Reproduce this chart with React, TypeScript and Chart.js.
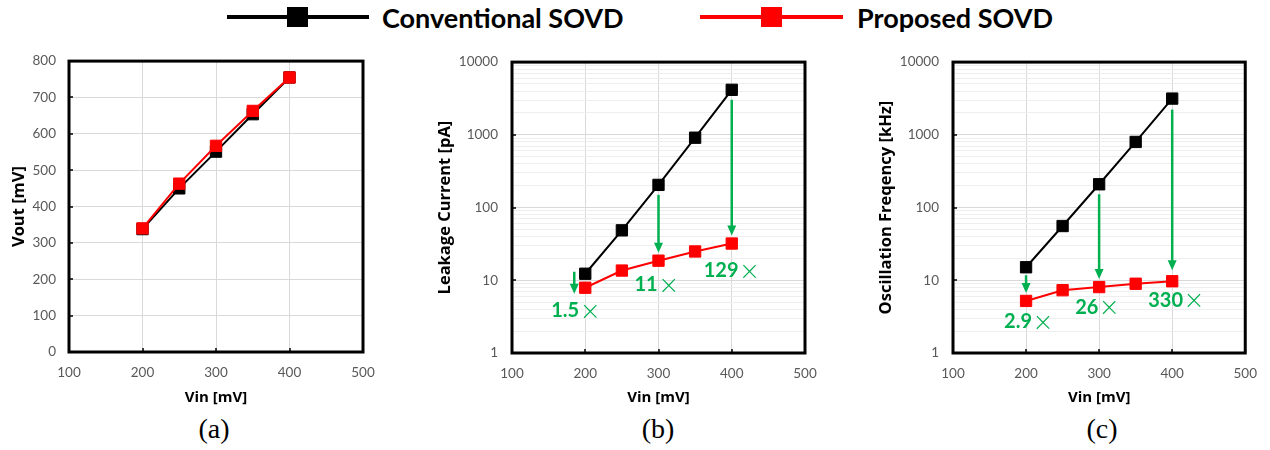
import React, { useEffect, useRef } from 'react';
import { Chart, registerables } from 'chart.js';

Chart.register(...registerables);

// ---------------- data ----------------
const vinValues = [200, 250, 300, 350, 400];
const xTickValues = [100, 200, 300, 400, 500];
const voutTickValues = [0, 100, 200, 300, 400, 500, 600, 700, 800];
const logTickLabels = [1, 10, 100, 1000, 10000];

const voutConventional = [338, 450, 551, 654, 755];
const voutProposed = [340, 463, 567, 663, 755];

const leakageConventional = [12.3, 48.6, 205, 913, 4160];
const leakageProposed = [7.9, 13.6, 18.6, 24.9, 32];

const freqConventional = [15.1, 55.7, 209, 798, 3150];
const freqProposed = [5.2, 7.3, 8.06, 8.96, 9.7];

const leakageRatioVin = [200, 300, 400];
const leakageRatioLabels = ['1.5', '11', '129'];
const freqRatioVin = [200, 300, 400];
const freqRatioLabels = ['2.9', '26', '330'];

const seriesNames = ['Conventional SOVD', 'Proposed SOVD'];
const panelLabels = ['(a)', '(b)', '(c)'];
const xTitle = 'Vin [mV]';
const yTitles = ['Vout [mV]', 'Leakage Current [pA]', 'Oscillation Freqency [kHz]'];

// ---------------- styles ----------------
const BLACK = '#000000';
const RED = '#ff0000';
const GREEN = '#00b050';
const FONT = 'Lato';
const TITLE_FONT = '"Open Sans"';
const TICK_COLOR = '#595959';

// pixel offsets for the ratio annotations (arrow dx, arrow start/end pads, text offsets)
const leakageAnnoStyle = [
  { dx: -11, start: -2, end: 6, tx: -34, ty: 23 },
  { dx: 0, start: 10, end: -8, tx: -24, ty: 24 },
  { dx: 0, start: 10, end: -8, tx: -28, ty: 27 },
];
const freqAnnoStyle = [
  { dx: 0, start: 8, end: -8, tx: -22, ty: 21 },
  { dx: 0, start: 10, end: -8, tx: -24, ty: 20 },
  { dx: 0, start: 11, end: -11, tx: -24, ty: 19 },
];

const isDecade = (v: number) => {
  const l = Math.log10(v);
  return Math.abs(l - Math.round(l)) < 1e-9;
};

function logGridValues(): number[] {
  const out: number[] = [];
  for (let d = 0; d < logTickLabels.length - 1; d++) {
    for (let m = 1; m < 10; m++) out.push(logTickLabels[d] * m);
  }
  out.push(logTickLabels[logTickLabels.length - 1]);
  return out;
}

const framePlugin = {
  id: 'frame',
  beforeDatasetsDraw(chart: any) {
    const { ctx, chartArea: a, scales } = chart;
    ctx.save();
    ctx.strokeStyle = '#000';
    ctx.lineWidth = 1.5;
    const xs = scales.x;
    xs.ticks.forEach((t: any) => {
      if (t.value > xs.min && t.value < xs.max) {
        const px = Math.round(xs.getPixelForValue(t.value));
        ctx.beginPath();
        ctx.moveTo(px, a.bottom);
        ctx.lineTo(px, a.bottom - 4);
        ctx.stroke();
      }
    });
    const ys = scales.y;
    ys.ticks.forEach((t: any) => {
      const major = ys.type === 'logarithmic' ? isDecade(t.value) : true;
      if (major && t.value > ys.min && t.value < ys.max) {
        const py = Math.round(ys.getPixelForValue(t.value));
        ctx.beginPath();
        ctx.moveTo(a.left, py);
        ctx.lineTo(a.left + 4, py);
        ctx.stroke();
      }
    });
    ctx.lineWidth = 3;
    ctx.strokeRect(a.left, a.top, a.right - a.left, a.bottom - a.top);
    ctx.restore();
  },
};

function makeAnnoPlugin(vins: number[], labels: string[], conv: number[], prop: number[], style: any[]) {
  return {
    id: 'ratioAnno',
    afterDatasetsDraw(chart: any) {
      const { ctx, scales } = chart;
      const xs = scales.x;
      const ys = scales.y;
      ctx.save();
      vins.forEach((v, i) => {
        const idx = vinValues.indexOf(v);
        const s = style[i];
        const x = xs.getPixelForValue(v) + s.dx;
        const y1 = ys.getPixelForValue(conv[idx]) + s.start;
        const y2 = ys.getPixelForValue(prop[idx]) + s.end;
        const head = 10;
        ctx.strokeStyle = GREEN;
        ctx.fillStyle = GREEN;
        ctx.lineWidth = 2.5;
        ctx.beginPath();
        ctx.moveTo(x, y1);
        ctx.lineTo(x, y2 - head + 1);
        ctx.stroke();
        ctx.beginPath();
        ctx.moveTo(x - 4.5, y2 - head);
        ctx.lineTo(x + 4.5, y2 - head);
        ctx.lineTo(x, y2);
        ctx.closePath();
        ctx.fill();
        // label
        const tx = xs.getPixelForValue(v) + s.tx;
        const ty = ys.getPixelForValue(prop[idx]) + s.ty;
        ctx.textBaseline = 'middle';
        ctx.textAlign = 'left';
        ctx.font = `bold 20px ${FONT}`;
        ctx.fillText(labels[i], tx, ty);
        const w = ctx.measureText(labels[i]).width;
        ctx.font = `300 31px ${FONT}`;
        ctx.fillText('\u00d7', tx + w + 2, ty + 1);
      });
      ctx.restore();
    },
  };
}

function makeConfig(p: any) {
  const ds = (label: string, color: string, values: number[], order: number) => ({
    label,
    data: vinValues.map((x, i) => ({ x, y: values[i] })),
    borderColor: color,
    backgroundColor: color,
    pointBackgroundColor: color,
    pointBorderColor: color,
    pointBorderWidth: 1,
    pointStyle: 'rect',
    pointRadius: 8,
    borderWidth: 2,
    order,
  });
  const tickFont = { family: FONT, size: 13.5 };
  const xTitleFont = { family: TITLE_FONT, size: 15, weight: 'bold' };
  const yTitleFont = { family: TITLE_FONT, size: 16.5, weight: 'bold' };
  const yScale: any = p.log
    ? {
        type: 'logarithmic',
        min: 1,
        max: 10000,
        afterBuildTicks: (s: any) => {
          s.ticks = logGridValues().map((v) => ({ value: v, major: isDecade(v) }));
        },
        ticks: {
          autoSkip: false,
          padding: 14,
          color: TICK_COLOR,
          font: tickFont,
          callback: (v: any) => (logTickLabels.includes(Number(v)) ? String(v) : ''),
        },
        grid: {
          drawTicks: false,
          color: (c: any) => (c.tick && isDecade(c.tick.value) ? '#d9d9d9' : '#eeeeee'),
        },
      }
    : {
        type: 'linear',
        min: 0,
        max: 800,
        afterBuildTicks: (s: any) => {
          s.ticks = voutTickValues.map((v) => ({ value: v }));
        },
        ticks: { autoSkip: false, padding: 13, color: TICK_COLOR, font: tickFont },
        grid: { drawTicks: false, color: '#d9d9d9' },
      };
  yScale.border = { display: false };
  yScale.title = {
    display: true,
    text: p.yTitle,
    color: '#000',
    font: yTitleFont,
    padding: { top: p.yTitlePad, bottom: 0 },
  };
  yScale.afterFit = (s: any) => {
    s.width = p.yWidth;
  };
  return {
    type: 'line',
    data: {
      datasets: [ds(seriesNames[1], RED, p.prop, 0), ds(seriesNames[0], BLACK, p.conv, 1)],
    },
    options: {
      animation: false,
      responsive: false,
      events: [],
      layout: { padding: { left: 0, top: p.padTop, right: p.padRight, bottom: 0 } },
      plugins: { legend: { display: false }, tooltip: { enabled: false } },
      scales: {
        x: {
          type: 'linear',
          min: 100,
          max: 500,
          afterBuildTicks: (s: any) => {
            s.ticks = xTickValues.map((v) => ({ value: v }));
          },
          ticks: { autoSkip: false, padding: 13, color: TICK_COLOR, font: tickFont },
          grid: { drawTicks: false, color: '#d9d9d9' },
          border: { display: false },
          title: {
            display: true,
            text: xTitle,
            color: '#000',
            font: xTitleFont,
            padding: { top: 0, bottom: 3 },
          },
          afterFit: (s: any) => {
            s.height = p.xHeight;
          },
        },
        y: yScale,
      },
    },
    plugins: p.anno ? [framePlugin, p.anno] : [framePlugin],
  };
}

const panels = [
  {
    left: 0, width: 420, yWidth: 69, padTop: 20, padRight: 57, xHeight: 58, yTitlePad: 9,
    log: false, conv: voutConventional, prop: voutProposed, yTitle: yTitles[0], anno: null, cx: 214,
  },
  {
    left: 420, width: 420, yWidth: 92, padTop: 19, padRight: 35, xHeight: 57, yTitlePad: 15,
    log: true, conv: leakageConventional, prop: leakageProposed, yTitle: yTitles[1],
    anno: makeAnnoPlugin(leakageRatioVin, leakageRatioLabels, leakageConventional, leakageProposed, leakageAnnoStyle),
    cx: 658,
  },
  {
    left: 840, width: 430, yWidth: 113, padTop: 19, padRight: 23, xHeight: 57, yTitlePad: 36,
    log: true, conv: freqConventional, prop: freqProposed, yTitle: yTitles[2],
    anno: makeAnnoPlugin(freqRatioVin, freqRatioLabels, freqConventional, freqProposed, freqAnnoStyle),
    cx: 1102,
  },
];

function Panel({ p }: { p: any }) {
  const ref = useRef<HTMLCanvasElement>(null);
  useEffect(() => {
    const chart = new Chart(ref.current as HTMLCanvasElement, makeConfig(p) as any);
    return () => chart.destroy();
  }, []);
  return (
    <canvas
      ref={ref}
      width={p.width}
      height={370}
      style={{ position: 'absolute', left: p.left, top: 40, width: p.width, height: 370 }}
    />
  );
}

const legendItems = [
  { name: seriesNames[0], color: BLACK, lineLeft: 227, lineWidth: 142, boxLeft: 287, textLeft: 382 },
  { name: seriesNames[1], color: RED, lineLeft: 700, lineWidth: 143, boxLeft: 761, textLeft: 857 },
];

export default function App() {
  return (
    <div style={{ position: 'absolute', left: 0, top: 0, width: 1270, height: 450, background: '#fff', overflow: 'hidden' }}>
      {legendItems.map((l) => (
        <React.Fragment key={l.name}>
          <div style={{ position: 'absolute', left: l.lineLeft, top: 15, width: l.lineWidth, height: 4, background: l.color }} />
          <div style={{ position: 'absolute', left: l.boxLeft, top: 7, width: 21, height: 20, background: l.color }} />
          <div
            style={{
              position: 'absolute', left: l.textLeft, top: 4, fontFamily: FONT, fontWeight: 'bold',
              fontSize: 27, lineHeight: '27px', whiteSpace: 'nowrap', color: '#000',
            }}
          >
            {l.name}
          </div>
        </React.Fragment>
      ))}
      {panels.map((p, i) => (
        <React.Fragment key={i}>
          <Panel p={p} />
          <div
            style={{
              position: 'absolute', left: p.cx - 50, width: 100, top: 415, textAlign: 'center',
              fontFamily: '"Liberation Serif", serif', fontSize: 28, lineHeight: '28px', color: '#000',
            }}
          >
            {panelLabels[i]}
          </div>
        </React.Fragment>
      ))}
    </div>
  );
}
